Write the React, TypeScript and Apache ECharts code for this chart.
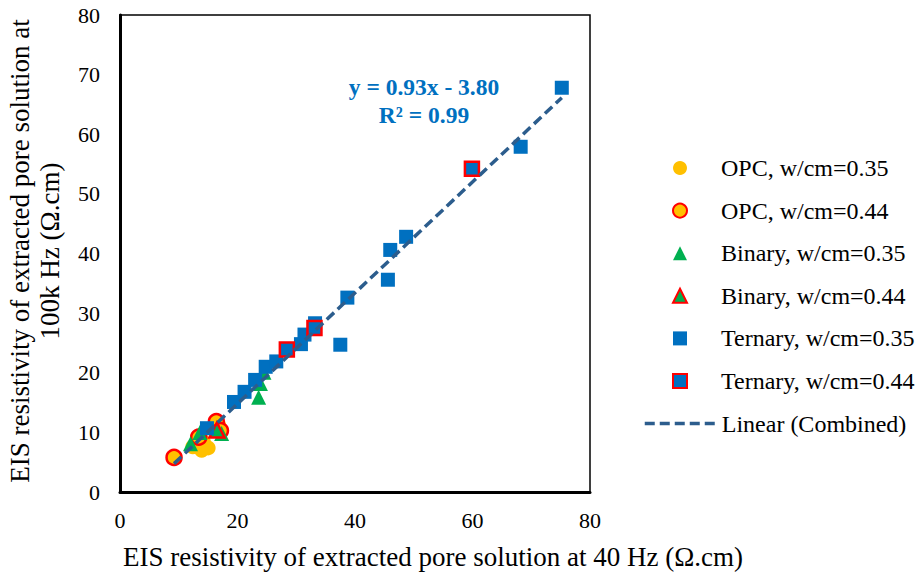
import React, { useEffect, useRef } from "react";
import * as echarts from "echarts";

// ---- Data (x: 40 Hz resistivity, y: 100k Hz resistivity, Ω.cm) ----
const seriesNames = [
  "OPC, w/cm=0.35",
  "OPC, w/cm=0.44",
  "Binary, w/cm=0.35",
  "Binary, w/cm=0.44",
  "Ternary, w/cm=0.35",
  "Ternary, w/cm=0.44",
  "Linear (Combined)",
];

const opc035: number[][] = [
  [12.4, 7.6],
  [13.9, 7.0],
  [15.0, 7.4],
  [14.2, 8.4],
  [16.8, 11.2],
];
const opc044: number[][] = [
  [9.2, 5.8],
  [13.4, 9.2],
  [16.4, 11.8],
  [17.1, 10.3],
];
const binary035: number[][] = [
  [12.0, 8.1],
  [13.6, 10.0],
  [17.3, 9.8],
  [23.6, 15.9],
  [23.9, 18.2],
  [24.5, 20.1],
];
const binary044: number[][] = [[16.5, 10.4]];
const ternary035: number[][] = [
  [14.8, 10.7],
  [19.4, 15.1],
  [21.2, 16.8],
  [23.0, 18.8],
  [24.8, 21.0],
  [26.6, 21.9],
  [30.8, 24.8],
  [31.4, 26.4],
  [33.2, 28.3],
  [37.5, 24.7],
  [38.7, 32.6],
  [45.6, 35.6],
  [46.0, 40.6],
  [48.7, 42.8],
  [68.2, 57.9],
  [75.2, 67.8],
];
const ternary044: number[][] = [
  [28.4, 23.9],
  [33.1, 27.5],
  [59.9, 54.2],
];

const trendSlope = 0.93;
const trendIntercept = -3.8;
const equationText = "y = 0.93x - 3.80";
const r2Text = "R² = 0.99";

const xAxisTitle = "EIS resistivity of extracted pore solution at 40 Hz (Ω.cm)";
const yAxisTitle = "EIS resistivity of extracted pore solution at\n100k Hz (Ω.cm)";

const axisMin = 0;
const axisMax = 80;
const xInterval = 20;
const yInterval = 10;

const FONT = "'Times New Roman', 'Liberation Serif', serif";
const RED = "#FF0000";
const YELLOW = "#FFC000";
const GREEN = "#00B050";
const BLUE = "#0070C0";
const TREND = "#2C5D8D";

export default function App() {
  const ref = useRef<HTMLDivElement>(null);

  useEffect(() => {
    if (!ref.current) return;
    const chart = echarts.init(ref.current, undefined, { renderer: "svg" });

    const allX = [...opc035, ...opc044, ...binary035, ...binary044, ...ternary035, ...ternary044].map((p) => p[0]);
    const xmin = Math.min(...allX);
    const xmax = Math.max(...allX);
    const trendData = [
      [xmin, trendSlope * xmin + trendIntercept],
      [xmax, trendSlope * xmax + trendIntercept],
    ];

    const scatter = (name: string, data: number[][], symbol: string, size: number, color: string, border?: string) => ({
      name,
      type: "scatter",
      data,
      symbol,
      symbolSize: size,
      itemStyle: border
        ? { color, borderColor: border, borderWidth: 2.5, opacity: 1 }
        : { color, opacity: 1 },
      emphasis: { disabled: true },
    });

    const legendText = { color: "#000", fontFamily: FONT, fontSize: 24, lineHeight: 24 };
    const rowStep = 42.6;
    const legendTop = 156;

    chart.setOption({
      animation: false,
      backgroundColor: "#fff",
      grid: {
        left: 120,
        top: 15,
        width: 470,
        height: 477,
        show: true,
        borderColor: "#000",
        borderWidth: 1.5,
        containLabel: false,
      },
      xAxis: {
        type: "value",
        min: axisMin,
        max: axisMax,
        interval: xInterval,
        axisLine: { show: true, onZero: false, lineStyle: { color: "#000", width: 3 } },
        axisTick: { show: false },
        splitLine: { show: false },
        axisLabel: { color: "#000", fontFamily: FONT, fontSize: 22, margin: 17 },
      },
      yAxis: {
        type: "value",
        min: axisMin,
        max: axisMax,
        interval: yInterval,
        axisLine: { show: true, onZero: false, lineStyle: { color: "#000", width: 3 } },
        axisTick: { show: false },
        splitLine: { show: false },
        axisLabel: { color: "#000", fontFamily: FONT, fontSize: 22, margin: 20 },
      },
      legend: [
        {
          orient: "vertical",
          left: 672,
          top: legendTop,
          padding: 0,
          itemWidth: 14,
          itemHeight: 14,
          itemGap: rowStep - 24,
          selectedMode: false,
          textStyle: { ...legendText, padding: [0, 0, 0, 29] },
          data: seriesNames.slice(0, 6),
        },
        {
          orient: "vertical",
          left: 643,
          top: legendTop + rowStep * 6,
          padding: 0,
          itemWidth: 72,
          itemHeight: 14,
          selectedMode: false,
          textStyle: legendText,
          data: [
            {
              name: seriesNames[6],
              lineStyle: { width: 3.5, type: [10, 5], color: TREND },
              itemStyle: { color: "rgba(0,0,0,0)", borderColor: "rgba(0,0,0,0)", borderWidth: 0 },
            },
          ],
        },
      ],
      series: [
        scatter(seriesNames[0], opc035, "circle", 15, YELLOW),
        scatter(seriesNames[1], opc044, "circle", 15, YELLOW, RED),
        scatter(seriesNames[2], binary035, "triangle", 15, GREEN),
        scatter(seriesNames[3], binary044, "triangle", 15, GREEN, RED),
        scatter(seriesNames[4], ternary035, "rect", 14, BLUE),
        scatter(seriesNames[5], ternary044, "rect", 14, BLUE, RED),
        {
          name: seriesNames[6],
          type: "line",
          data: trendData,
          symbol: "none",
          z: 5,
          lineStyle: { color: TREND, width: 3.5, type: [10, 5] },
          itemStyle: { color: TREND },
          emphasis: { disabled: true },
        },
      ],
      graphic: [
        {
          type: "text",
          x: 424,
          y: 101,
          style: {
            text: equationText + "\n" + r2Text,
            fill: BLUE,
            font: `bold 23.5px ${FONT}`,
            align: "center",
            verticalAlign: "middle",
            lineHeight: 28,
          },
        },
        {
          type: "text",
          x: 433,
          y: 557,
          style: {
            text: xAxisTitle,
            fill: "#000",
            font: `27px ${FONT}`,
            align: "center",
            verticalAlign: "middle",
          },
        },
        {
          type: "text",
          x: 35,
          y: 251,
          rotation: Math.PI / 2,
          style: {
            text: yAxisTitle,
            fill: "#000",
            font: `27px ${FONT}`,
            align: "center",
            verticalAlign: "middle",
            lineHeight: 30,
          },
        },
      ],
    });

    return () => chart.dispose();
  }, []);

  return (
    <div
      ref={ref}
      style={{ position: "fixed", left: 0, top: 0, width: 920, height: 576, background: "#fff" }}
    />
  );
}
